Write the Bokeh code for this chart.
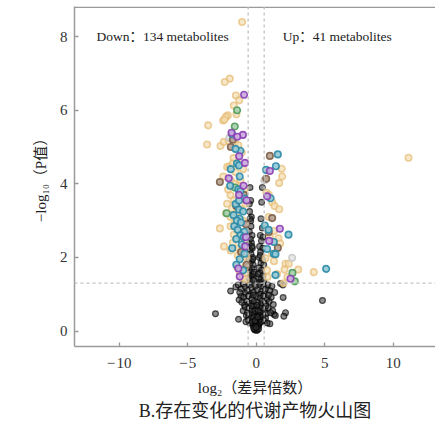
from bokeh.plotting import figure
from bokeh.models import Range1d, FixedTicker, CustomJSTickFormatter, Span, Title
from bokeh.core.properties import value
from bokeh.embed import file_html
from bokeh.resources import INLINE

# ---------------- data ----------------
x_ticks = [-10, -5, 0, 5, 10]
y_ticks = [0, 2, 4, 6, 8]
fc_threshold = [-0.585, 0.585]
p_threshold = 1.30

note_x = [-11.66, 1.94]
note_y = [8.0, 8.0]
note_text = ["Down\uff1a134 metabolites", "Up\uff1a41 metabolites"]

x_label = "log\u2082\uff08\u5dee\u5f02\u500d\u6570\uff09"
y_label = "\u2212log\u2081\u2080\uff08P\u503c\uff09"
caption = "B.\u5b58\u5728\u53d8\u5316\u7684\u4ee3\u8c22\u4ea7\u7269\u706b\u5c71\u56fe"

black_x = [-0.45, -0.40, -0.50, -0.35, -0.45, -0.38, -0.50, -0.30, -0.42, -0.35, -0.50, -0.28, -0.45, -0.38,
           -0.25, -0.52, -0.35, -0.45, -0.22, -0.30, -0.48, -0.40, -0.20, -0.35, -0.55, -0.28, -0.45, -0.18,
           -0.40, -0.30, -0.48, -0.25, -0.15,
           0.40, 0.35, 0.45, 0.30, 0.50, 0.38, 0.25, 0.48, 0.32, 0.22, 0.45, 0.35, 0.55, 0.20, 0.40, 0.28,
           0.50, 0.18, 0.35, 0.55, 0.25, 0.45, 0.30, 0.15,
           4.84, -2.97, -1.29, -1.87, -1.48, 1.97, 2.14, 2.02, 1.00, 1.30, 1.78, 1.95, -1.10, 1.40, 1.20,
           -1.30, -1.10, -0.95, -0.80, -0.65, -0.50, -0.35, -0.20, -0.05, 0.10, 0.25, 0.40, 0.55, 0.70, 0.85,
           1.00, 1.15, 1.35, -0.75, -1.20, 0.60, -0.45, 0.30,
           -1.25, -1.05, -0.90, -0.70, -0.55, -0.40, -0.30, -0.15, 0.00, 0.12, 0.28, 0.42, 0.55, 0.68, 0.80,
           0.95, 1.10, 1.25, -0.60, -0.20, 0.35, -0.85, 0.90,
           -0.95, -0.80, -0.65, -0.50, -0.40, -0.30, -0.20, -0.12, 0.00, 0.10, 0.20, 0.30, 0.40, 0.50, 0.62,
           0.75, 0.88, -0.72, -0.55, 0.05, -0.08, 0.15, 0.25, 0.70, -0.35, 1.05,
           -0.60, -0.48, -0.38, -0.28, -0.18, -0.10, -0.02, 0.06, 0.14, 0.22, 0.30, 0.38, 0.48, 0.58, 0.68,
           -0.22, 0.18, -0.08, 0.10, 0.80, -0.75,
           -0.15, -0.08, 0.00, 0.06, 0.12, -0.04, 0.03, -0.10, 0.08, 0.18, -0.18, 0.00]
black_y = [3.90, 3.55, 3.45, 3.10, 3.05, 2.85, 2.70, 2.60, 2.50, 2.40, 2.35, 2.25, 2.20, 2.10,
           2.00, 1.95, 1.90, 1.85, 1.80, 1.70, 1.65, 1.60, 1.55, 1.50, 1.45, 1.40, 1.35, 1.38,
           3.00, 2.30, 3.25, 1.95, 1.60,
           3.50, 3.05, 2.80, 2.60, 2.55, 2.45, 2.30, 2.25, 2.15, 2.00, 1.95, 1.85, 1.80, 1.72, 1.65, 1.58,
           1.50, 1.45, 1.40, 1.35, 1.32, 3.90, 2.05, 1.55,
           0.83, 0.47, 0.32, 1.09, 1.20, 0.91, 0.50, 0.40, 0.20, 0.45, 1.29, 1.25, 0.95, 0.42, 0.55,
           1.25, 1.15, 1.28, 1.20, 1.10, 1.25, 1.18, 1.05, 1.22, 1.12, 1.27, 1.08, 1.20, 1.15, 1.25,
           1.10, 1.22, 1.05, 1.02, 1.05, 1.02, 1.00, 1.00,
           0.85, 0.78, 0.92, 0.82, 0.95, 0.75, 0.88, 0.80, 0.95, 0.78, 0.90, 0.82, 0.95, 0.75, 0.88,
           0.80, 0.92, 0.72, 0.72, 0.98, 0.72, 0.70, 0.98,
           0.55, 0.65, 0.50, 0.62, 0.45, 0.58, 0.68, 0.48, 0.60, 0.45, 0.65, 0.52, 0.62, 0.42, 0.58,
           0.48, 0.62, 0.42, 0.40, 0.70, 0.55, 0.55, 0.42, 0.68, 0.68, 0.50,
           0.30, 0.22, 0.35, 0.25, 0.38, 0.18, 0.30, 0.22, 0.35, 0.20, 0.32, 0.25, 0.38, 0.28, 0.35,
           0.15, 0.15, 0.28, 0.38, 0.22, 0.25,
           0.10, 0.05, 0.02, 0.08, 0.12, 0.13, 0.05, 0.03, 0.02, 0.06, 0.07, 0.10]

gold_x = [-1.02, -1.92, -2.29, -1.48, -1.24, -1.63, -1.44, -2.07, -2.21, -2.41, -2.30, -3.50, -3.58, -2.60,
          -2.36, -2.00, -1.55, -1.30, -2.12, -1.95, -1.65, -1.51, -0.95, -1.15, -1.85, -1.30, -0.85, -1.87,
          -1.63, -1.15, -2.12, -1.75, -0.78, -1.87, -2.65, -1.87, -1.63, -1.87, -1.27, -1.15, -1.40, -0.80,
          -0.78, -1.05, -1.45, -0.95, -1.25, -1.00, -1.35, -0.70, -1.55, -2.05, -1.35, -1.05, -2.40, -1.70,
          -1.10, -1.55, -0.90, -1.20, -1.00, -0.75, -1.70, -2.20, -2.35,
          1.87, 1.90, 1.68, 0.75, 0.92, 1.17, 1.34, 1.68, 0.92, 1.30, 1.63, 1.75, 1.17, 0.68, 2.14, 2.38,
          2.07, 3.07, 4.21, 2.28, 1.53, 0.83, 0.80, 11.12, 2.00, 1.00, 1.30]
gold_y = [8.40, 6.86, 6.77, 6.40, 6.27, 6.13, 5.89, 5.86, 5.82, 5.72, 5.75, 5.59, 5.07, 5.03,
          5.14, 5.16, 5.10, 5.05, 4.46, 4.48, 4.70, 4.32, 4.40, 4.10, 4.10, 3.95, 3.85, 3.69,
          3.55, 3.65, 3.46, 3.33, 3.46, 3.10, 2.79, 2.85, 2.62, 2.19, 2.24, 2.00, 1.75, 1.75,
          1.55, 2.45, 3.20, 3.00, 2.70, 2.20, 2.05, 2.00, 4.00, 3.85, 4.55, 4.85, 4.20, 4.55,
          3.30, 2.95, 2.60, 1.60, 1.45, 1.40, 2.40, 3.20, 2.30,
          4.41, 4.20, 4.02, 3.76, 3.70, 3.50, 3.40, 3.31, 3.10, 2.72, 2.52, 2.38, 2.10, 1.98, 1.83, 1.83,
          1.67, 1.67, 1.60, 1.47, 1.55, 1.47, 1.65, 4.71, 1.30, 2.55, 1.90]

teal_x = [-1.15, -1.50, -1.40, -1.25, -1.85, -1.90, -1.30, -1.15, -1.50, -1.25, -0.95, -1.65, -1.20, -1.40,
          -1.10, -1.60, -1.35, -0.85, -1.15, -0.90, -1.45, -1.05, -1.75, -0.85, -1.20, -1.45, -0.95, -1.20,
          -1.75, -0.85, -1.25,
          1.58, 1.44, 0.73, 1.05, 0.63, 2.36, 1.29, 0.80, 1.29, 1.41, 5.11, 1.41, 0.90]
teal_y = [4.90, 4.95, 4.55, 4.50, 4.40, 3.95, 3.85, 3.80, 3.45, 3.30, 3.25, 3.15, 3.05, 3.00,
          2.95, 2.85, 2.75, 2.70, 2.60, 2.55, 2.50, 2.35, 2.25, 2.10, 1.95, 1.80, 1.65, 4.20,
          5.35, 3.60, 3.55,
          4.80, 4.48, 4.38, 3.61, 2.87, 2.62, 2.42, 2.23, 2.10, 2.09, 1.69, 1.52, 2.75]

purple_x = [-0.88, -1.80, -0.97, -1.38, -1.24, -0.82, -2.00, -0.92, -1.25, -0.70, -0.80, -1.30, -1.20, -0.75,
            1.00, 0.80, 1.73, 2.51, 0.95]
purple_y = [6.42, 5.39, 5.33, 5.28, 4.75, 4.57, 4.15, 3.95, 3.70, 3.55, 2.30, 1.70, 1.48, 2.55,
            4.35, 3.66, 2.78, 1.42, 2.45]

green_x = [-1.39, -1.56, -2.15, -1.55, 2.65, 2.82]
green_y = [6.00, 5.56, 3.20, 3.90, 1.58, 1.35]

brown_x = [-2.65, -0.90, -1.70, -1.45, -0.75, -1.85, -1.10, -0.70, 1.00, 0.73, 1.17, 0.92, 1.58]
brown_y = [4.05, 3.70, 5.20, 3.40, 2.90, 5.00, 2.15, 1.80, 4.76, 4.14, 3.07, 2.69, 2.26]

gray_x = [-1.95, 2.63, 0.60]
gray_y = [5.25, 1.99, 4.10]

# ---------------- figure ----------------
SERIF = "'Liberation Serif', 'Noto Sans CJK SC', serif"
AX = "#9a9a9a"

p = figure(width=435, height=426, output_backend="svg", toolbar_location=None,
           x_range=Range1d(-13.26, 13.09), y_range=Range1d(-0.42, 8.82),
           min_border_left=74, min_border_right=0, min_border_top=6, min_border_bottom=80)
p.grid.visible = False
p.outline_line_color = None
p.background_fill_color = "white"

for ax in (p.xaxis[0], p.yaxis[0]):
    ax.axis_line_color = AX
    ax.axis_line_width = 1.5
    ax.major_tick_line_color = AX
    ax.major_tick_line_width = 1.3
    ax.major_tick_in = 4
    ax.major_tick_out = 0
    ax.minor_tick_line_color = None
    ax.major_label_text_font = SERIF
    ax.major_label_text_font_size = "15px"
    ax.major_label_text_color = "#333333"
    ax.axis_label_text_font = SERIF
    ax.axis_label_text_font_size = "15px"
    ax.axis_label_text_font_style = "normal"
    ax.axis_label_text_color = "#222222"

fmt = CustomJSTickFormatter(code="return tick < 0 ? '\\u2212\\u200a' + Math.abs(tick) : String(tick);")
p.xaxis.ticker = FixedTicker(ticks=x_ticks)
p.yaxis.ticker = FixedTicker(ticks=y_ticks)
p.xaxis.formatter = fmt
p.yaxis.formatter = fmt
p.xaxis.axis_label = x_label
p.yaxis.axis_label = y_label
p.xaxis.major_label_standoff = 8
p.xaxis.axis_label_standoff = 6
p.yaxis.major_label_standoff = 7
p.yaxis.axis_label_standoff = 8

# top border
p.add_layout(Span(location=8.80, dimension="width", line_color=AX, line_width=1.5))

# threshold lines
for xv in fc_threshold:
    p.add_layout(Span(location=xv, dimension="height", line_color="#c2c2c2",
                      line_dash="3 3", line_width=1.3))
p.add_layout(Span(location=p_threshold, dimension="width", line_color="#c2c2c2",
                  line_dash="3 3", line_width=1.3))

# points
p.scatter(black_x, black_y, size=5.8, fill_color="#333333", fill_alpha=0.55,
          line_color="#000000", line_alpha=0.65, line_width=1.2)

groups = [
    (gold_x, gold_y, "#f4ddb2", "#e5bb72", 0.7),
    (gray_x, gray_y, "#e6e6e6", "#c8c8c8", 0.9),
    (brown_x, brown_y, "#b5a191", "#7d5f48", 0.9),
    (green_x, green_y, "#a5cfaa", "#4f9a5c", 0.9),
    (teal_x, teal_y, "#95c9d7", "#2a8aa6", 0.9),
    (purple_x, purple_y, "#cba6df", "#8a3fb3", 0.9),
]
for gx, gy, fill, line, a in groups:
    p.scatter(gx, gy, size=6.5, fill_color=fill, fill_alpha=a,
              line_color=line, line_alpha=a, line_width=1.6)

# annotation texts
p.text(x=note_x, y=note_y, text=note_text, text_font=value(SERIF), text_font_size="13.5px",
       text_baseline="middle", text_align="left", text_color="#222222")

p.add_layout(Title(text=caption, align="center", text_font=SERIF, text_font_size="18px",
                   text_font_style="normal", text_color="#222222", standoff=0), "below")

open("out.html", "w").write(file_html(p, INLINE))
